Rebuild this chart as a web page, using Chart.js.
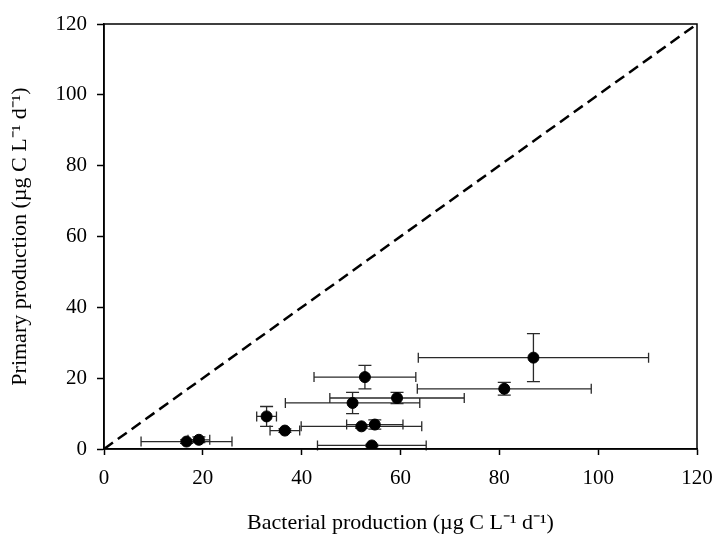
<!DOCTYPE html>
<html>
<head>
<meta charset="utf-8">
<script src="https://cdn.jsdelivr.net/npm/chart.js@4.4.1/dist/chart.umd.min.js"></script>
<style>
html,body{margin:0;padding:0;background:#fff;}
#wrap{width:715px;height:536px;position:relative;}
</style>
</head>
<body>
<div id="wrap"><canvas id="c" width="715" height="536"></canvas></div>
<script>
const bacterialProduction = [16.7, 19.2, 32.9, 36.6, 52.1, 54.8, 54.2, 50.3, 59.3, 52.8, 81.0, 86.9];
const primaryProduction   = [2.1, 2.6, 9.2, 5.2, 6.4, 6.9, 1.0, 13.0, 14.4, 20.3, 17.0, 25.8];
const bacterialError      = [9.2, 2.2, 2.0, 3.0, 12.2, 5.7, 11.0, 13.6, 13.6, 10.3, 17.6, 23.3];
const primaryError        = [0.5, 0.8, 2.8, 0.5, 0.5, 1.3, 0.3, 3.0, 1.6, 3.3, 1.8, 6.8];
const oneToOneLine        = [0, 120];
const tickValues          = [0, 20, 40, 60, 80, 100, 120];

const points = bacterialProduction.map((x, i) => ({x: x, y: primaryProduction[i], ex: bacterialError[i], ey: primaryError[i]}));
const lineData = oneToOneLine.map(v => ({x: v, y: v}));

const FONT = "'Liberation Serif', 'Times New Roman', serif";

const errorBars = {
  id: 'errorBars',
  beforeDatasetsDraw(chart) {
    const ctx = chart.ctx;
    const xs = chart.scales.x, ys = chart.scales.y;
    ctx.save();
    ctx.strokeStyle = '#2a2a2a';
    ctx.lineWidth = 1.3;
    points.forEach(p => {
      const cx = xs.getPixelForValue(p.x), cy = ys.getPixelForValue(p.y);
      const x1 = xs.getPixelForValue(p.x - p.ex), x2 = xs.getPixelForValue(p.x + p.ex);
      const y1 = ys.getPixelForValue(p.y - p.ey), y2 = ys.getPixelForValue(p.y + p.ey);
      ctx.beginPath();
      ctx.moveTo(x1, cy); ctx.lineTo(x2, cy);
      ctx.moveTo(x1, cy - 5); ctx.lineTo(x1, cy + 5);
      ctx.moveTo(x2, cy - 5); ctx.lineTo(x2, cy + 5);
      ctx.moveTo(cx, y1); ctx.lineTo(cx, y2);
      ctx.moveTo(cx - 6.5, y1); ctx.lineTo(cx + 6.5, y1);
      ctx.moveTo(cx - 6.5, y2); ctx.lineTo(cx + 6.5, y2);
      ctx.stroke();
    });
    ctx.restore();
  }
};

const frame = {
  id: 'frame',
  afterDraw(chart) {
    const a = chart.chartArea, ctx = chart.ctx;
    ctx.save();
    ctx.strokeStyle = '#000';
    ctx.lineWidth = 1.5;
    ctx.strokeRect(a.left, a.top, a.right - a.left, a.bottom - a.top);
    ctx.restore();
  }
};

new Chart(document.getElementById('c'), {
  type: 'scatter',
  data: {
    datasets: [
      {
        type: 'line',
        data: lineData,
        borderColor: '#000',
        borderWidth: 2.5,
        borderDash: [11, 6],
        pointRadius: 0,
        fill: false
      },
      {
        data: points,
        backgroundColor: '#000',
        borderColor: '#000',
        pointRadius: 5.5,
        pointHoverRadius: 5.5
      }
    ]
  },
  options: {
    responsive: false,
    animation: false,
    events: [],
    layout: {padding: {top: 24, right: 18, left: 0, bottom: 0}},
    plugins: {legend: {display: false}, tooltip: {enabled: false}},
    scales: {
      x: {
        type: 'linear', min: 0, max: 120,
        afterBuildTicks(s) { s.ticks = tickValues.map(v => ({value: v})); },
        afterFit(s) { s.height = 87; s.paddingLeft = 0; s.paddingRight = 0; },
        grid: {drawOnChartArea: false, tickLength: 6, tickColor: '#000', tickWidth: 1.5},
        border: {color: '#000', width: 1.5},
        ticks: {color: '#000', font: {family: FONT, size: 21}, padding: 11, maxRotation: 0},
        title: {display: true, text: 'Bacterial production (\u00b5g C L\u207b\u00b9 d\u207b\u00b9)', color: '#000', font: {family: FONT, size: 22}, padding: {top: 4, bottom: 0}}
      },
      y: {
        type: 'linear', min: 0, max: 120,
        afterBuildTicks(s) { s.ticks = tickValues.map(v => ({value: v})); },
        afterFit(s) { s.width = 104; s.paddingTop = 0; s.paddingBottom = 0; },
        grid: {drawOnChartArea: false, tickLength: 7, tickColor: '#000', tickWidth: 1.5},
        border: {color: '#000', width: 1.5},
        ticks: {color: '#000', font: {family: FONT, size: 21}, padding: 10},
        title: {display: true, text: 'Primary production (\u00b5g C L\u207b\u00b9 d\u207b\u00b9)', color: '#000', font: {family: FONT, size: 22}, padding: {top: 7, bottom: 4}}
      }
    }
  },
  plugins: [errorBars, frame]
});
</script>
</body>
</html>
